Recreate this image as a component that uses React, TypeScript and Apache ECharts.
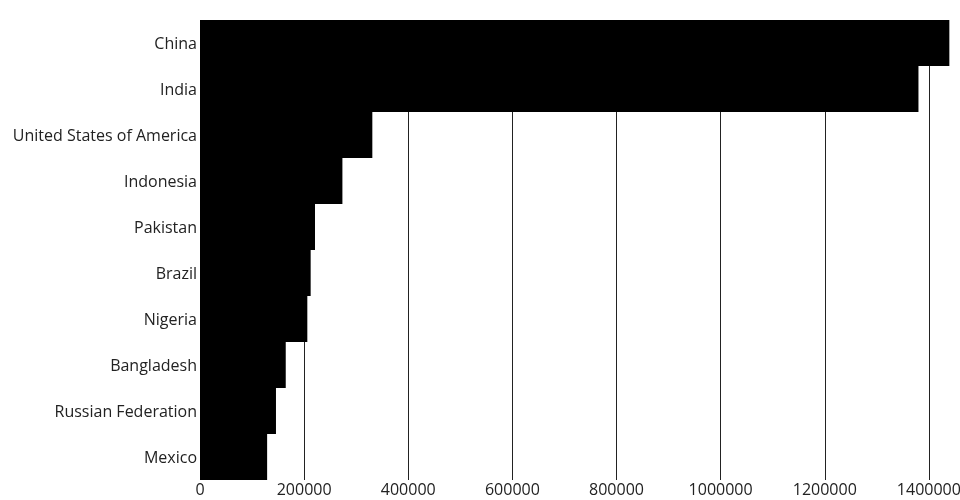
import React, { useEffect, useRef } from "react";
import * as echarts from "echarts";

const countries = [
  "China",
  "India",
  "United States of America",
  "Indonesia",
  "Pakistan",
  "Brazil",
  "Nigeria",
  "Bangladesh",
  "Russian Federation",
  "Mexico",
];
const population = [1439324, 1380004, 331003, 273524, 220892, 212559, 206140, 164689, 145934, 128933];

export default function App() {
  const ref = useRef<HTMLDivElement>(null);
  useEffect(() => {
    if (!ref.current) return;
    const chart = echarts.init(ref.current, null, { renderer: "svg" });
    chart.setOption({
      animation: false,
      grid: {
        left: 200,
        top: 20,
        bottom: 20,
        right: 7,
        containLabel: false,
        outerBoundsMode: "none",
      },
      xAxis: {
        type: "value",
        min: 0,
        max: 1600000,
        interval: 200000,
        axisLine: { show: false },
        axisTick: { show: false },
        splitLine: { show: true, lineStyle: { color: "#222", width: 1 } },
        axisLabel: {
          color: "#222",
          fontFamily: "Open Sans",
          fontSize: 16,
          margin: 1,
          formatter: (v: number) => String(v),
        },
      },
      yAxis: {
        type: "category",
        data: countries,
        inverse: true,
        axisLine: { show: false },
        axisTick: { show: false },
        axisLabel: {
          color: "#222",
          fontFamily: "Open Sans",
          fontSize: 16,
          margin: 3,
        },
      },
      series: [
        {
          type: "bar",
          data: population,
          barCategoryGap: 0,
          itemStyle: { color: "#000" },
        },
      ],
    });
    return () => chart.dispose();
  }, []);
  return (
    <div style={{ position: "fixed", left: 0, top: 0, width: 960, height: 500, overflow: "hidden" }}>
      <div ref={ref} style={{ width: 1040, height: 500 }} />
    </div>
  );
}
